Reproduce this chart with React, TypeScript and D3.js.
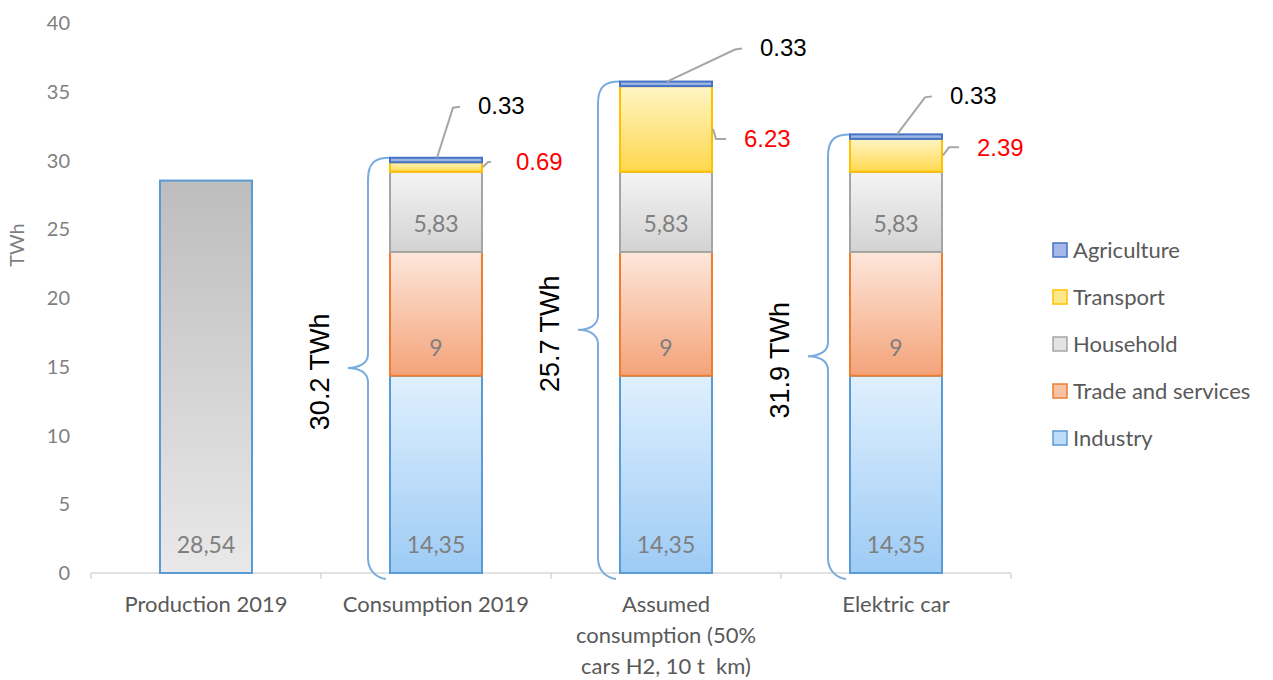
import React from 'react';
import * as d3 from 'd3';

// categories and series (TWh)
const categories = ['Production 2019', 'Consumption 2019', 'Assumed consumption', 'Elektric car'];
const categoryLines = [
  ['Production 2019'],
  ['Consumption 2019'],
  ['Assumed', 'consumption (50%', 'cars H2, 10 t  km)'],
  ['Elektric car'],
];
const production = [28.54, 0, 0, 0];
const industry = [0, 14.35, 14.35, 14.35];
const trade = [0, 9, 9, 9];
const household = [0, 5.83, 5.83, 5.83];
const transport = [0, 0.69, 6.23, 2.39];
const agriculture = [0, 0.33, 0.33, 0.33];
const braceLabels = ['', '30.2 TWh', '25.7 TWh', '31.9 TWh'];
const yTicks = [0, 5, 10, 15, 20, 25, 30, 35, 40];

const keys = ['industry', 'trade', 'household', 'transport', 'agriculture'];
const seriesByKey: Record<string, number[]> = { industry, trade, household, transport, agriculture };
const legendItems = [
  { key: 'agriculture', label: 'Agriculture' },
  { key: 'transport', label: 'Transport' },
  { key: 'household', label: 'Household' },
  { key: 'trade', label: 'Trade and services' },
  { key: 'industry', label: 'Industry' },
];

const styles: Record<string, { top: string; bottom: string; stroke: string; swatch: string }> = {
  production: { top: '#bdbdbd', bottom: '#e9e9e9', stroke: '#5b9bd5', swatch: '#d9d9d9' },
  industry: { top: '#e0f0fe', bottom: '#9dcbf5', stroke: '#5b9bd5', swatch: '#bcdcf7' },
  trade: { top: '#fde7dc', bottom: '#f4a379', stroke: '#ed7d31', swatch: '#f7c2a5' },
  household: { top: '#f4f4f4', bottom: '#d3d3d3', stroke: '#a5a5a5', swatch: '#e3e3e3' },
  transport: { top: '#fff5c6', bottom: '#ffd84c', stroke: '#ffc000', swatch: '#ffe88a' },
  agriculture: { top: '#a9bfe9', bottom: '#8eaadb', stroke: '#4472c4', swatch: '#a4b9e8' },
};

// hand placed callout elbows, relative to the bar (layout, not data)
const agriElbow = [null, [17, -50], [69, -32], [29, -37]];
const transElbow = [null, [6, -5], [4, 10], [7, -8]];
const transRun = [0, 3, 10, 10];

const W = 1273;
const H = 680;
const FONT = 'Lato, "Open Sans", sans-serif';
const ARIAL = '"Liberation Sans", Arial, sans-serif';

const App: React.FC = () => {
  const x = d3.scaleBand<string>().domain(categories).range([91, 1011]).paddingInner(0.6).paddingOuter(0.3);
  const y = d3.scaleLinear().domain([0, 40]).range([573, 23]);

  const table = categories.map((c, i) => ({
    cat: c,
    industry: industry[i],
    trade: trade[i],
    household: household[i],
    transport: transport[i],
    agriculture: agriculture[i],
  }));
  const stacked = d3.stack<any>().keys(keys)(table);

  const bw = x.bandwidth();
  const step = x.step();
  const fmt = (v: number) => String(v).replace('.', ',');

  return (
    <svg width={W} height={H} style={{ position: 'absolute', left: 0, top: 0, background: '#fff' }}>
      <defs>
        {Object.entries(styles).map(([k, s]) => (
          <linearGradient key={k} id={`g-${k}`} x1="0" y1="0" x2="0" y2="1">
            <stop offset="0" stopColor={s.top} />
            <stop offset="1" stopColor={s.bottom} />
          </linearGradient>
        ))}
      </defs>

      {/* y axis labels */}
      {yTicks.map(t => (
        <text key={t} x={70} y={y(t)} dy="0.35em" textAnchor="end" fontFamily={FONT} fontSize={20} fill="#7f7f7f">
          {t}
        </text>
      ))}
      <text transform={`translate(17,245) rotate(-90)`} dy="0.35em" textAnchor="middle" fontFamily={FONT} fontSize={20} fill="#7f7f7f">
        TWh
      </text>

      {/* x axis */}
      <line x1={x.range()[0]} x2={x.range()[1]} y1={y(0)} y2={y(0)} stroke="#d9d9d9" strokeWidth={1.5} />
      {d3.range(categories.length + 1).map(i => (
        <line key={i} x1={x.range()[0] + i * step} x2={x.range()[0] + i * step} y1={y(0)} y2={y(0) + 6} stroke="#d9d9d9" strokeWidth={1.5} />
      ))}
      {categories.map((c, i) => (
        <text key={c} x={(x(c) ?? 0) + bw / 2} textAnchor="middle" fontFamily={FONT} fontSize={22} fill="#595959" style={{ whiteSpace: 'pre' }}>
          {categoryLines[i].map((ln, j) => (
            <tspan key={j} x={(x(c) ?? 0) + bw / 2} y={612 + j * 31}>{ln}</tspan>
          ))}
        </text>
      ))}

      {/* braces */}
      {categories.map((c, i) => {
        if (!braceLabels[i]) return null;
        const total = d3.sum(keys, k => seriesByKey[k][i]);
        const xl = x(c) ?? 0;
        const yt = y(total);
        const yb = y(0) + 5;
        const ym = (yt + yb) / 2;
        const xv = xl - 22;
        const xc = xl - 42;
        const p = d3.path();
        p.moveTo(xl, yt);
        p.bezierCurveTo(xl - 14, yt, xv, yt + 4, xv, yt + 22);
        p.lineTo(xv, ym - 14);
        p.bezierCurveTo(xv, ym - 4, xc + 10, ym, xc, ym);
        p.bezierCurveTo(xc + 10, ym, xv, ym + 4, xv, ym + 14);
        p.lineTo(xv, yb - 20);
        p.bezierCurveTo(xv, yb - 6, xl - 12, yb, xl - 4, yb + 1);
        return (
          <g key={c}>
            <path d={p.toString()} fill="none" stroke="#79abdf" strokeWidth={2} />
            <text transform={`translate(${xc - 28},${ym + 4}) rotate(-90)`} dy="0.35em" textAnchor="middle" fontFamily={ARIAL} fontSize={27} fill="#000">
              {braceLabels[i]}
            </text>
          </g>
        );
      })}

      {/* production bar */}
      {production.map((v, i) =>
        v > 0 ? (
          <g key={`p${i}`}>
            <rect x={x(categories[i])} y={y(v)} width={bw} height={y(0) - y(v)} fill="url(#g-production)" stroke={styles.production.stroke} strokeWidth={2} />
            <text x={(x(categories[i]) ?? 0) + bw / 2} y={y(0) - 28} dy="0.35em" textAnchor="middle" fontFamily={FONT} fontSize={23} fill="#7f7f7f">
              {fmt(v)}
            </text>
          </g>
        ) : null
      )}

      {/* stacked bars */}
      {stacked.map(layer => (
        <g key={layer.key}>
          {layer.map((d, i) =>
            seriesByKey[layer.key][i] > 0 ? (
              <rect key={i} x={x(categories[i])} y={y(d[1])} width={bw} height={y(d[0]) - y(d[1])}
                fill={`url(#g-${layer.key})`} stroke={styles[layer.key].stroke} strokeWidth={2} />
            ) : null
          )}
        </g>
      ))}
      {stacked
        .filter(l => ['industry', 'trade', 'household'].includes(l.key))
        .map(layer =>
          layer.map((d, i) =>
            seriesByKey[layer.key][i] > 0 ? (
              <text key={`${layer.key}${i}`} x={(x(categories[i]) ?? 0) + bw / 2} y={y(d[0]) - 28} dy="0.35em" textAnchor="middle"
                fontFamily={FONT} fontSize={23} fill="#7f7f7f">
                {fmt(seriesByKey[layer.key][i])}
              </text>
            ) : null
          )
        )}

      {/* callouts */}
      {categories.map((c, i) => {
        const ae = agriElbow[i];
        const te = transElbow[i];
        if (!ae || !te) return null;
        const cx = (x(c) ?? 0) + bw / 2;
        const xr = (x(c) ?? 0) + bw;
        const agri = stacked[4][i];
        const tr = stacked[3][i];
        const yt = y(agri[1]);
        const ax = cx + ae[0];
        const ay = yt + ae[1];
        const ym = (y(tr[0]) + y(tr[1])) / 2;
        const tx = xr + te[0];
        const ty = ym + te[1];
        return (
          <g key={`c${i}`}>
            <polyline points={`${cx + 1},${yt} ${ax},${ay} ${ax + 7},${ay - 1}`} fill="none" stroke="#a6a6a6" strokeWidth={2} />
            <text x={ax + 25} y={ay - 2} dy="0.35em" fontFamily={ARIAL} fontSize={24} fill="#000">
              {String(agriculture[i])}
            </text>
            <polyline points={`${xr + 1},${ym} ${tx},${ty} ${tx + transRun[i]},${ty}`} fill="none" stroke="#a6a6a6" strokeWidth={2} />
            <text x={tx + 28} y={ty} dy="0.35em" fontFamily={ARIAL} fontSize={24} fill="#ff0000">
              {String(transport[i])}
            </text>
          </g>
        );
      })}

      {/* legend */}
      {legendItems.map((it, j) => {
        const ly = 250 + j * 47;
        return (
          <g key={it.key}>
            <rect x={1053} y={ly - 7} width={14} height={14} fill={styles[it.key].swatch} stroke={styles[it.key].stroke} strokeWidth={1.5} />
            <text x={1073} y={ly} dy="0.35em" fontFamily={FONT} fontSize={22} fill="#595959">
              {it.label}
            </text>
          </g>
        );
      })}
    </svg>
  );
};

export default App;
